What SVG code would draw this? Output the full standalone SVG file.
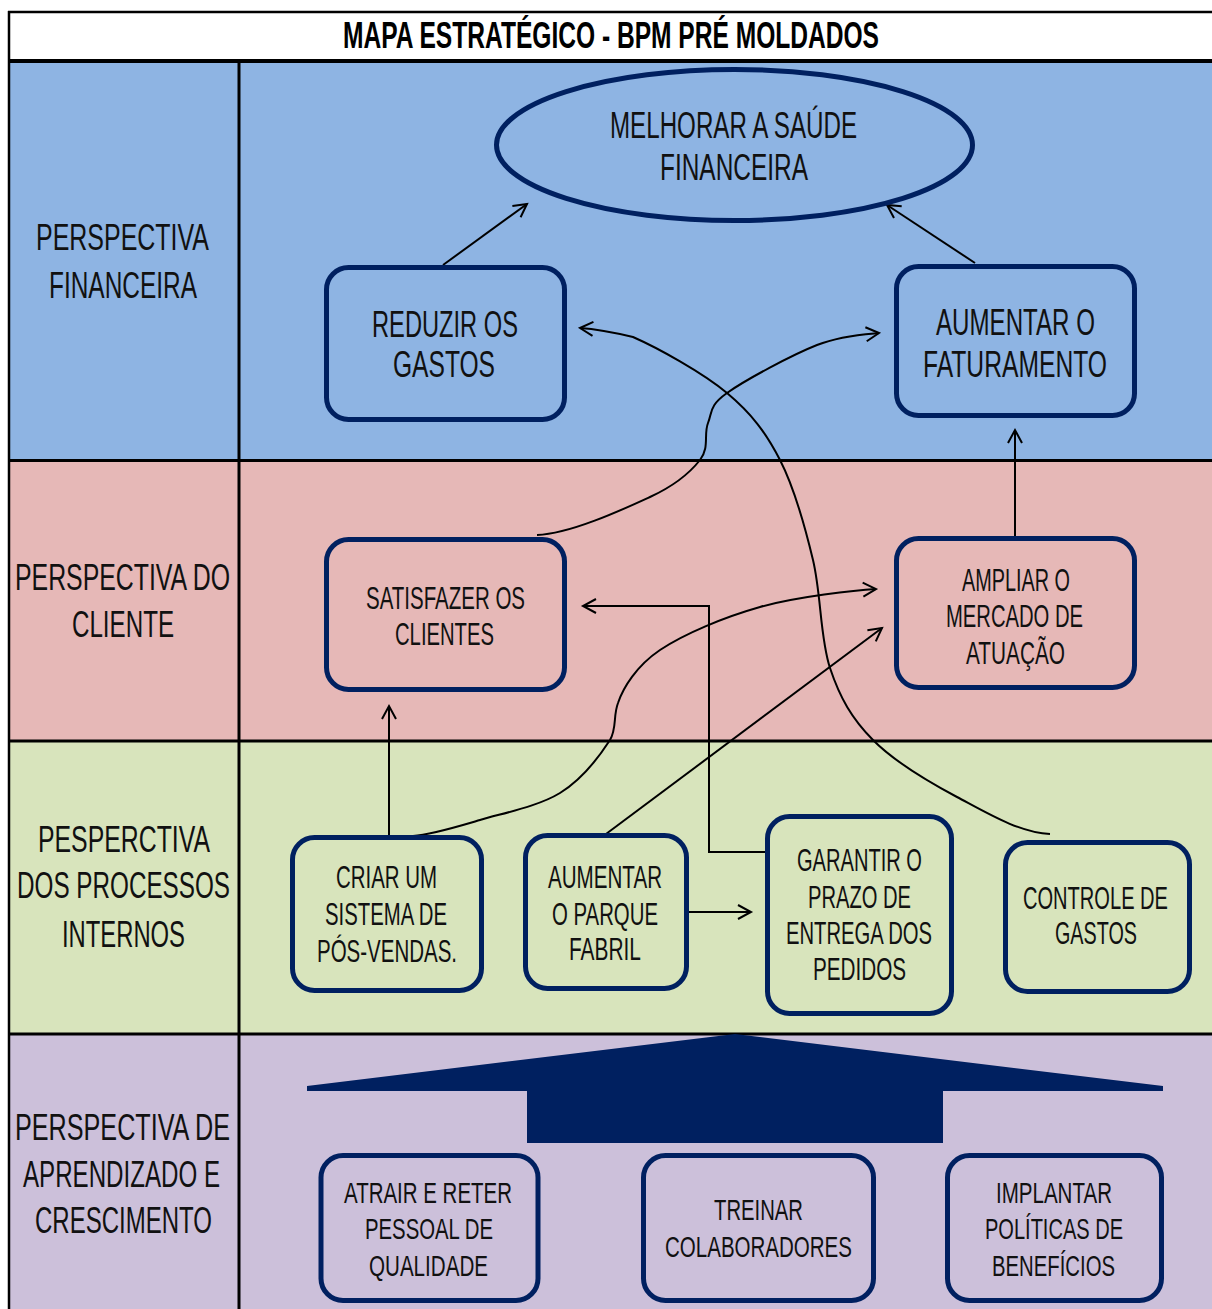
<svg xmlns="http://www.w3.org/2000/svg" width="1212" height="1309" viewBox="0 0 1212 1309">
  <style>
    text { font-family: "Liberation Sans", Arial, sans-serif; fill: #111; text-anchor: middle; }
    .title { font-weight: bold; font-size: 36px; fill: #000; }
    .side { font-size: 36px; }
    .big { font-size: 36px; }
    .mid { font-size: 31px; }
    .sm { font-size: 30px; }
    .box { stroke: #002060; stroke-width: 5; }
    .fin { fill: #8EB4E3; }
    .cli { fill: #E6B8B7; }
    .pro { fill: #D8E4BC; }
    .apr { fill: #CCC0DA; }
    .grid { stroke: #000; fill: none; }
    .conn { fill: none; stroke: #000; stroke-width: 2; }
  </style>
  <defs>
    <marker id="arrow" viewBox="-16 -9 18 18" refX="0" refY="0" markerWidth="18" markerHeight="18" markerUnits="userSpaceOnUse" orient="auto" overflow="visible">
      <path d="M-13,-7 L0,0 L-13,7" fill="none" stroke="#000" stroke-width="2"/>
    </marker>
  </defs>

  <!-- table background and bands -->
  <g id="table">
    <rect x="0" y="0" width="1212" height="1309" fill="#FFFFFF"/>
    <rect class="fin" x="9" y="61" width="1203" height="400"/>
    <rect class="cli" x="9" y="460" width="1203" height="281"/>
    <rect class="pro" x="9" y="741" width="1203" height="293"/>
    <rect class="apr" x="9" y="1034" width="1203" height="275"/>
    <line class="grid" x1="8" y1="12" x2="1212" y2="12" stroke-width="2.5"/>
    <line class="grid" x1="9" y1="11" x2="9" y2="1309" stroke-width="2.5"/>
    <line class="grid" x1="8" y1="61" x2="1212" y2="61" stroke-width="4"/>
    <line class="grid" x1="239" y1="61" x2="239" y2="1309" stroke-width="3"/>
    <line class="grid" x1="8" y1="460.5" x2="1212" y2="460.5" stroke-width="3"/>
    <line class="grid" x1="8" y1="741" x2="1212" y2="741" stroke-width="3"/>
    <line class="grid" x1="8" y1="1034" x2="1212" y2="1034" stroke-width="3"/>
    <text class="title" x="611" y="48" textLength="536" lengthAdjust="spacingAndGlyphs">MAPA ESTRATÉGICO - BPM PRÉ MOLDADOS</text>
  </g>

  <!-- perspective labels -->
  <g id="label-financeira">
    <text class="side" x="122.5" y="250" textLength="173" lengthAdjust="spacingAndGlyphs">PERSPECTIVA</text>
    <text class="side" x="123" y="298" textLength="148" lengthAdjust="spacingAndGlyphs">FINANCEIRA</text>
  </g>
  <g id="label-cliente">
    <text class="side" x="122.5" y="590" textLength="215" lengthAdjust="spacingAndGlyphs">PERSPECTIVA DO</text>
    <text class="side" x="123" y="637" textLength="102" lengthAdjust="spacingAndGlyphs">CLIENTE</text>
  </g>
  <g id="label-processos">
    <text class="side" x="124" y="852" textLength="172" lengthAdjust="spacingAndGlyphs">PESPERCTIVA</text>
    <text class="side" x="123.5" y="898" textLength="213" lengthAdjust="spacingAndGlyphs">DOS PROCESSOS</text>
    <text class="side" x="123.5" y="947" textLength="123" lengthAdjust="spacingAndGlyphs">INTERNOS</text>
  </g>
  <g id="label-aprendizado">
    <text class="side" x="122.5" y="1140" textLength="215" lengthAdjust="spacingAndGlyphs">PERSPECTIVA DE</text>
    <text class="side" x="121.5" y="1187" textLength="197" lengthAdjust="spacingAndGlyphs">APRENDIZADO E</text>
    <text class="side" x="123.5" y="1233" textLength="177" lengthAdjust="spacingAndGlyphs">CRESCIMENTO</text>
  </g>

  <!-- connectors -->
  <g id="connectors" class="conn">
    <path marker-end="url(#arrow)" d="M443,265 L527,204"/>
    <path marker-end="url(#arrow)" d="M975,263 L887,205"/>
    <path marker-end="url(#arrow)" d="M1050,834 C1020,833 986.5,812.7 957,797 C927.5,781.3 894.2,761.5 873,740 C851.8,718.5 840,698 830,668 C820,638 821.3,594.7 813,560 C804.7,525.3 794.3,487.8 780,460 C765.7,432.2 751.5,413.5 727,393 C702.5,372.5 657.5,347.8 633,337 C612,332 595,329 580,328"/>
    <path marker-end="url(#arrow)" d="M537,535 C570,534 622.8,509.5 650,497 C677.2,484.5 690.3,472.3 700,460 C709.7,447.7 703.5,434.2 708,423 C712.5,411.8 708.8,406 727,393 C745.2,380 791.7,355 817,345 C842.3,335 868.7,334 879,333"/>
    <path marker-end="url(#arrow)" d="M413,836 C430,835 455.5,827.2 480,820 C504.5,812.8 538.3,806.3 560,793 C581.7,779.7 600.3,755 610,740 C617,728 613,716 618,703 C623,688 636.3,666 660,650 C683.7,634 724,617.2 760,607 C796,596.8 856.7,590 876,589"/>
    <path marker-end="url(#arrow)" d="M606,834 L882,628"/>
    <path marker-end="url(#arrow)" d="M765,852 L709,852 L709,606 L583,606"/>
    <path marker-end="url(#arrow)" d="M389,835 L389,706"/>
    <path marker-end="url(#arrow)" d="M1015,536 L1015,430"/>
    <path marker-end="url(#arrow)" d="M689,912 L751,912"/>
  </g>

  <!-- financial perspective -->
  <g id="node-saude">
    <ellipse class="box fin" cx="734.5" cy="145" rx="238" ry="75.5"/>
    <text class="big" x="733.5" y="138" textLength="247" lengthAdjust="spacingAndGlyphs">MELHORAR A SAÚDE</text>
    <text class="big" x="734" y="180" textLength="148" lengthAdjust="spacingAndGlyphs">FINANCEIRA</text>
  </g>
  <g id="node-reduzir">
    <rect class="box fin" x="326.5" y="267.5" width="238" height="152" rx="22"/>
    <text class="big" x="445" y="337" textLength="146" lengthAdjust="spacingAndGlyphs">REDUZIR OS</text>
    <text class="big" x="444" y="377" textLength="102" lengthAdjust="spacingAndGlyphs">GASTOS</text>
  </g>
  <g id="node-faturamento">
    <rect class="box fin" x="896.5" y="266.5" width="238" height="149" rx="22"/>
    <text class="big" x="1015.5" y="335" textLength="159" lengthAdjust="spacingAndGlyphs">AUMENTAR O</text>
    <text class="big" x="1015" y="377" textLength="184" lengthAdjust="spacingAndGlyphs">FATURAMENTO</text>
  </g>

  <!-- customer perspective -->
  <g id="node-satisfazer">
    <rect class="box cli" x="326.5" y="539.5" width="238" height="150" rx="22"/>
    <text class="mid" x="445.5" y="609" textLength="159" lengthAdjust="spacingAndGlyphs">SATISFAZER OS</text>
    <text class="mid" x="444.5" y="645" textLength="99" lengthAdjust="spacingAndGlyphs">CLIENTES</text>
  </g>
  <g id="node-ampliar">
    <rect class="box cli" x="896.5" y="538.5" width="238" height="149" rx="22"/>
    <text class="mid" x="1016" y="591" textLength="108" lengthAdjust="spacingAndGlyphs">AMPLIAR O</text>
    <text class="mid" x="1014.5" y="627" textLength="137" lengthAdjust="spacingAndGlyphs">MERCADO DE</text>
    <text class="mid" x="1015.5" y="664" textLength="99" lengthAdjust="spacingAndGlyphs">ATUAÇÃO</text>
  </g>

  <!-- internal process perspective -->
  <g id="node-posvendas">
    <rect class="box pro" x="292.5" y="837.5" width="189" height="153" rx="22"/>
    <text class="mid" x="386.5" y="888" textLength="101" lengthAdjust="spacingAndGlyphs">CRIAR UM</text>
    <text class="mid" x="386" y="925" textLength="122" lengthAdjust="spacingAndGlyphs">SISTEMA DE</text>
    <text class="mid" x="387" y="962" textLength="140" lengthAdjust="spacingAndGlyphs">PÓS-VENDAS.</text>
  </g>
  <g id="node-parque">
    <rect class="box pro" x="525.5" y="835.5" width="161" height="153" rx="22"/>
    <text class="mid" x="605" y="888" textLength="114" lengthAdjust="spacingAndGlyphs">AUMENTAR</text>
    <text class="mid" x="605" y="925" textLength="106" lengthAdjust="spacingAndGlyphs">O PARQUE</text>
    <text class="mid" x="605" y="960" textLength="72" lengthAdjust="spacingAndGlyphs">FABRIL</text>
  </g>
  <g id="node-prazo">
    <rect class="box pro" x="767.5" y="816.5" width="184" height="197" rx="22"/>
    <text class="mid" x="859.5" y="871" textLength="125" lengthAdjust="spacingAndGlyphs">GARANTIR O</text>
    <text class="mid" x="859.5" y="908" textLength="103" lengthAdjust="spacingAndGlyphs">PRAZO DE</text>
    <text class="mid" x="859" y="944" textLength="146" lengthAdjust="spacingAndGlyphs">ENTREGA DOS</text>
    <text class="mid" x="859.5" y="980" textLength="93" lengthAdjust="spacingAndGlyphs">PEDIDOS</text>
  </g>
  <g id="node-controle">
    <rect class="box pro" x="1005.5" y="842.5" width="184" height="149" rx="22"/>
    <text class="mid" x="1095.5" y="909" textLength="145" lengthAdjust="spacingAndGlyphs">CONTROLE DE</text>
    <text class="mid" x="1096" y="944" textLength="82" lengthAdjust="spacingAndGlyphs">GASTOS</text>
  </g>

  <!-- learning and growth perspective -->
  <g id="base-arrow">
    <polygon fill="#002060" points="735,1034 1163,1086 1163,1091 943,1091 943,1143 527,1143 527,1091 307,1091 307,1086"/>
  </g>
  <g id="node-pessoal">
    <rect class="box apr" x="321" y="1155.5" width="217" height="145" rx="22"/>
    <text class="sm" x="428" y="1203" textLength="168" lengthAdjust="spacingAndGlyphs">ATRAIR E RETER</text>
    <text class="sm" x="429" y="1239" textLength="128" lengthAdjust="spacingAndGlyphs">PESSOAL DE</text>
    <text class="sm" x="428.5" y="1276" textLength="119" lengthAdjust="spacingAndGlyphs">QUALIDADE</text>
  </g>
  <g id="node-treinar">
    <rect class="box apr" x="643.5" y="1155.5" width="230" height="145" rx="22"/>
    <text class="sm" x="758.5" y="1220" textLength="89" lengthAdjust="spacingAndGlyphs">TREINAR</text>
    <text class="sm" x="758.5" y="1257" textLength="187" lengthAdjust="spacingAndGlyphs">COLABORADORES</text>
  </g>
  <g id="node-beneficios">
    <rect class="box apr" x="947.5" y="1155.5" width="214" height="145" rx="22"/>
    <text class="sm" x="1054" y="1203" textLength="116" lengthAdjust="spacingAndGlyphs">IMPLANTAR</text>
    <text class="sm" x="1054" y="1239" textLength="138" lengthAdjust="spacingAndGlyphs">POLÍTICAS DE</text>
    <text class="sm" x="1053.5" y="1276" textLength="123" lengthAdjust="spacingAndGlyphs">BENEFÍCIOS</text>
  </g>
</svg>
